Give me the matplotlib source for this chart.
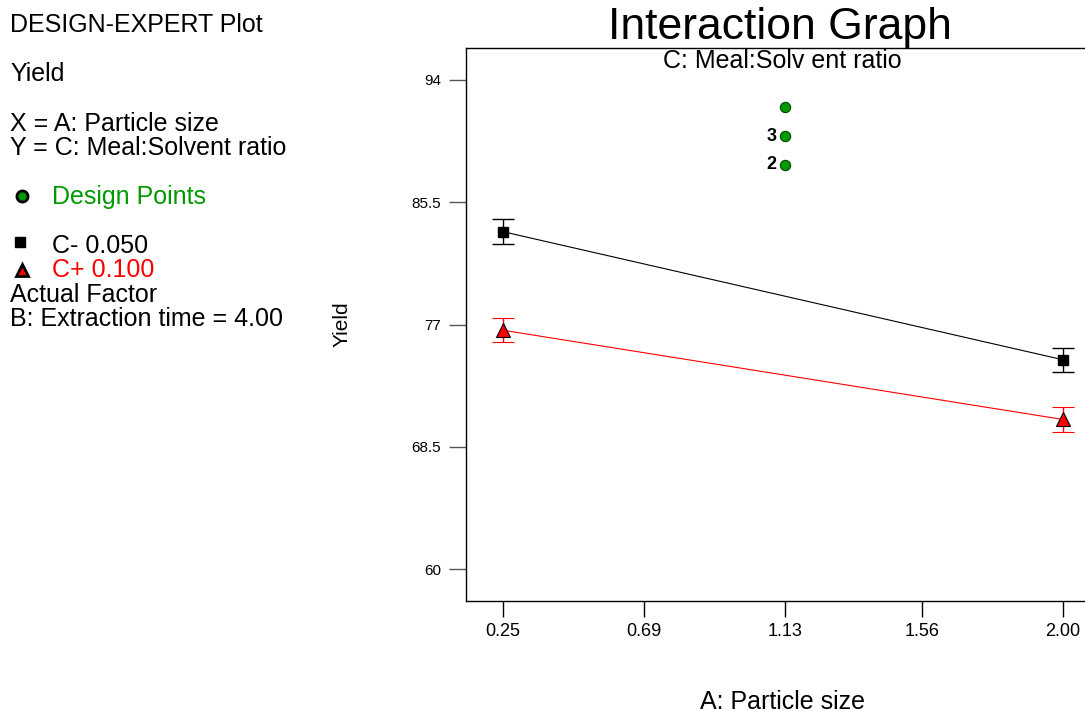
import matplotlib.pyplot as plt
import numpy as np

plt.rcParams['font.family'] = ['Liberation Sans', 'DejaVu Sans']

# data
a_levels = [0.25, 2.00]
yield_cminus = [83.45, 74.55]
yield_cplus = [76.6, 70.4]
err_cminus = [0.85, 0.85]
err_cplus = [0.85, 0.85]
design_x = [1.13, 1.13, 1.13]
design_y = [92.1, 90.1, 88.1]
design_labels = ['', '3', '2']
xticks = [0.25, 0.69, 1.13, 1.56, 2.00]
xtick_labels = ['0.25', '0.69', '1.13', '1.56', '2.00']
yticks = [60, 68.5, 77, 85.5, 94]
ytick_labels = ['60', '68.5', '77', '85.5', '94']

W, H = 1085, 715
fig = plt.figure(figsize=(W/100, H/100), dpi=100)
ax = fig.add_axes([466/W, 1-601/H, (1100-466)/W, (601-48)/H])

def px(x, y):
    return x/W, 1-y/H

ax.errorbar(a_levels, yield_cminus, yerr=err_cminus, color='black', lw=0.8,
            elinewidth=1, capsize=8, capthick=1, marker='s', markersize=7,
            markerfacecolor='black', markeredgecolor='black', zorder=3)
ax.errorbar(a_levels, yield_cplus, yerr=err_cplus, color='red', lw=0.8,
            elinewidth=1, capsize=8, capthick=1, marker='^', markersize=10,
            markerfacecolor='red', markeredgecolor='black', markeredgewidth=0.8, zorder=3)

ax.scatter(design_x, design_y, s=55, color='#009900', edgecolors='#004400',
           linewidths=0.8, zorder=4)
for xv, yv, lab in zip(design_x, design_y, design_labels):
    if lab:
        ax.annotate(lab, (xv, yv), xytext=(-6, 0), textcoords='offset points',
                    ha='right', va='center', fontsize=13, fontweight='bold')

ax.set_xlim(0.134, 2.116)
ax.set_ylim(57.78, 96.22)
ax.set_xticks(xticks)
ax.set_xticklabels(xtick_labels)
ax.set_yticks(yticks)
ax.set_yticklabels(ytick_labels)
ax.tick_params(axis='x', length=11.5, width=1, pad=4, labelsize=13)
ax.tick_params(axis='y', length=12, width=1, color='#555555', pad=6, labelsize=11)
for s in ax.spines.values():
    s.set_linewidth(1)

ax.set_xlabel('A: Particle size', fontsize=18, labelpad=36)
ax.set_ylabel('Yield', fontsize=15)
ax.yaxis.set_label_coords(-0.18, 0.5)

fig.text(*px(780, 28), 'Interaction Graph', fontsize=32, ha='center', va='center')
fig.text(*px(782, 61), 'C: Meal:Solv ent ratio', fontsize=18, ha='center', va='center')

# left side annotation block
fs = 18
fig.text(*px(10, 25), 'DESIGN-EXPERT Plot', fontsize=fs, va='center')
fig.text(*px(10, 74), 'Yield', fontsize=fs, va='center')
fig.text(*px(10, 124), 'X = A: Particle size', fontsize=fs, va='center')
fig.text(*px(10, 148), 'Y = C: Meal:Solvent ratio', fontsize=fs, va='center')
fig.text(*px(52, 197), 'Design Points', fontsize=fs, va='center', color='#009900')
fig.text(*px(52, 246), 'C- 0.050', fontsize=fs, va='center')
fig.text(*px(52, 270), 'C+ 0.100', fontsize=fs, va='center', color='red')
fig.text(*px(10, 295), 'Actual Factor', fontsize=fs, va='center')
fig.text(*px(10, 319), 'B: Extraction time = 4.00', fontsize=fs, va='center')

fig.lines.append(plt.Line2D([px(22, 0)[0]], [px(0, 196)[1]], transform=fig.transFigure,
                            marker='o', markersize=8, markerfacecolor='#009900',
                            markeredgecolor='black', markeredgewidth=2, linestyle=''))
fig.lines.append(plt.Line2D([px(20, 0)[0]], [px(0, 242)[1]], transform=fig.transFigure,
                            marker='s', markersize=7, color='black', linestyle=''))
fig.lines.append(plt.Line2D([px(22, 0)[0]], [px(0, 270)[1]], transform=fig.transFigure,
                            marker='^', markersize=9, markerfacecolor='red',
                            markeredgecolor='black', markeredgewidth=2, linestyle=''))

fig.savefig('out.png', dpi=100)
